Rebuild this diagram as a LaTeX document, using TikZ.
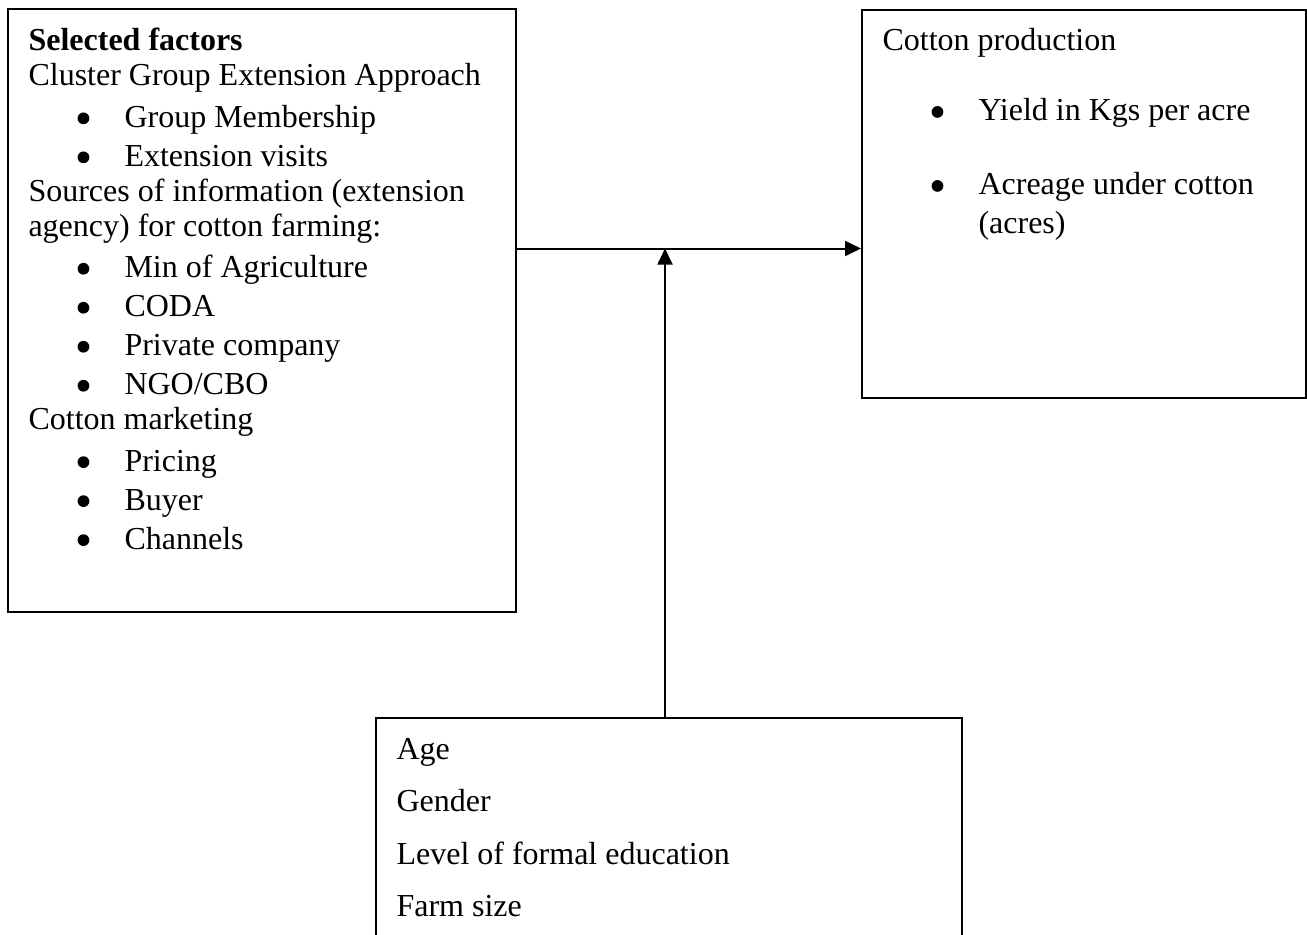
\documentclass[tikz,border=0pt]{standalone}
\usepackage{fontspec}
\setmainfont{Liberation Serif}
\usetikzlibrary{arrows.meta}

\newcommand{\bul}{\tikz[baseline={(0,-3.4pt)}]\fill (0,0) circle[radius=2.2pt];}
\newcommand{\itm}[1]{\hspace*{18.4pt}\makebox[17.6pt][l]{\bul}#1}

\begin{document}
\begin{tikzpicture}[x=0.375pt,y=-0.375pt,
  box/.style={draw,line width=0.75pt,inner sep=0,anchor=north west},
  txt/.style={anchor=base west,inner sep=0},
  flow/.style={line width=0.75pt,-{Triangle[length=6pt,width=5.6pt]}}]
\clip (0,0) rectangle (1307,934);
% the three boxes
\node[box,minimum width=508*0.375pt,minimum height=603*0.375pt] (sel) at (7,8) {};
\node[box,minimum width=444*0.375pt,minimum height=388*0.375pt] (prod) at (861,9) {};
\node[box,minimum width=586*0.375pt,minimum height=260*0.375pt] (ctrl) at (375,717) {};
% texts
\node[txt] (seltxt) at (28,51) {\parbox[t]{180pt}{\fontsize{12}{13.125}\selectfont
\textbf{Selected factors}\\
Cluster Group Extension Approach\\[2.4pt]
\itm{Group Membership}\\[1.5pt]
\itm{Extension visits}\\
Sources of information (extension\\
agency) for cotton farming:\\[2.4pt]
\itm{Min of Agriculture}\\[1.5pt]
\itm{CODA}\\[1.5pt]
\itm{Private company}\\[1.5pt]
\itm{NGO/CBO}\\
Cotton marketing\\[2.4pt]
\itm{Pricing}\\[1.5pt]
\itm{Buyer}\\[1.5pt]
\itm{Channels}}};
\node[txt] (prodtxt) at (882,51) {\parbox[t]{160pt}{\fontsize{12}{14.25}\selectfont
Cotton production\\[12pt]
\itm{Yield in Kgs per acre}\\[13.5pt]
\itm{Acreage under cotton}\\
\hspace*{36pt}(acres)}};
\node[txt] (ctrltxt) at (396,759) {\parbox[t]{200pt}{\fontsize{12}{19.7}\selectfont
Age\\
Gender\\
Level of formal education\\
Farm size}};
% arrows
\coordinate (j) at (665,248.5);
\draw[flow] (sel.east |- j) -- (prod.west |- j);
\draw[flow] (ctrl.north -| j) -- (j);
\end{tikzpicture}
\end{document}
